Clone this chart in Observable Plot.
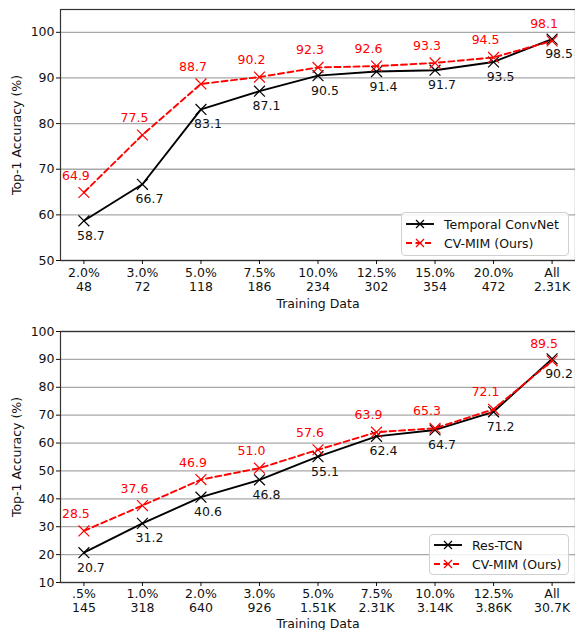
<!DOCTYPE html>
<html>
<head>
<meta charset="utf-8">
<script src="https://cdn.jsdelivr.net/npm/d3@7"></script>
<script src="https://cdn.jsdelivr.net/npm/@observablehq/plot@0.6"></script>
<style>
  body { margin: 0; background: #fff; font-family: "DejaVu Sans", sans-serif; }
  .panel { position: relative; width: 575px; }
  .legend { position: absolute; background: rgba(255,255,255,0.85); border: 1px solid #d0d0d0; border-radius: 4px;
            font: 12.5px "DejaVu Sans", sans-serif; color: #111; box-sizing: border-box; }
  .legend .row { position: absolute; display: flex; align-items: center; white-space: nowrap; }
  .legend svg { display: block; }
</style>
</head>
<body>
<div id="root"></div>
<script>
// ---- Data: top panel ----
const topLabels = ["2.0%\n48", "3.0%\n72", "5.0%\n118", "7.5%\n186", "10.0%\n234", "12.5%\n302", "15.0%\n354", "20.0%\n472", "All\n2.31K"];
const topBaselineName = "Temporal ConvNet";
const topBaseline = [58.7, 66.7, 83.1, 87.1, 90.5, 91.4, 91.7, 93.5, 98.5];
const topOurs = [64.9, 77.5, 88.7, 90.2, 92.3, 92.6, 93.3, 94.5, 98.1];
const topYTicks = [50, 60, 70, 80, 90, 100];

// ---- Data: bottom panel ----
const botLabels = [".5%\n145", "1.0%\n318", "2.0%\n640", "3.0%\n926", "5.0%\n1.51K", "7.5%\n2.31K", "10.0%\n3.14K", "12.5%\n3.86K", "All\n30.7K"];
const botBaselineName = "Res-TCN";
const botBaseline = [20.7, 31.2, 40.6, 46.8, 55.1, 62.4, 64.7, 71.2, 90.2];
const botOurs = [28.5, 37.6, 46.9, 51.0, 57.6, 63.9, 65.3, 72.1, 89.5];
const botYTicks = [10, 20, 30, 40, 50, 60, 70, 80, 90, 100];

const oursName = "CV-MIM (Ours)";
const RED = "#ff0000", BLACK = "#000000";
const FONT = "DejaVu Sans";

function panel({labels, baseline, ours, baseName, yDomain, yTicks, height, marginTop, marginBottom, xLabelOffset, tickPad, legendBox}) {
  const base = baseline.map((v, i) => ({i, v}));
  const our = ours.map((v, i) => ({i, v}));
  const n = labels.length;
  const plot = Plot.plot({
    width: 575,
    height,
    marginLeft: 60,
    marginRight: 0,
    marginTop,
    marginBottom,
    style: {fontFamily: FONT, fontSize: "12.5px", color: "#111", background: "white", overflow: "visible"},
    x: {domain: [-0.4, n - 1 + 0.4]},
    y: {domain: yDomain},
    marks: [
      Plot.gridY(yTicks, {stroke: "#a8a8a8", strokeOpacity: 1, strokeWidth: 1.3}),
      Plot.line(base, {x: "i", y: "v", stroke: BLACK, strokeWidth: 1.9}),
      Plot.dot(base, {x: "i", y: "v", symbol: "times", r: 5, stroke: BLACK, strokeWidth: 1.2}),
      Plot.line(our, {x: "i", y: "v", stroke: RED, strokeWidth: 1.9, strokeDasharray: "6,3.5"}),
      Plot.dot(our, {x: "i", y: "v", symbol: "times", r: 5, stroke: RED, strokeWidth: 1.2}),
      Plot.text(base, {x: "i", y: "v", text: d => d.v.toFixed(1), dx: 7, dy: 15, fill: "#111", fontSize: 12.5}),
      Plot.text(our, {x: "i", y: "v", text: d => d.v.toFixed(1), dx: -8, dy: -17, fill: RED, fontSize: 12.5}),
      Plot.frame({stroke: "#333", strokeWidth: 1.2}),
      Plot.axisX({ticks: d3.range(n), tickFormat: i => labels[i], tickSize: 4, tickPadding: tickPad, lineHeight: 1.1,
        label: "Training Data", labelAnchor: "center", labelArrow: "none", labelOffset: xLabelOffset, fill: "#111"}),
      Plot.axisY({ticks: yTicks, tickSize: 4, tickPadding: 2, label: "Top-1 Accuracy (%)",
        labelAnchor: "center", labelArrow: "none", labelOffset: 48, fill: "#111"})
    ]
  });
  const div = document.createElement("div");
  div.className = "panel";
  div.style.height = height + "px";
  div.appendChild(plot);
  // legend
  const lg = document.createElement("div");
  lg.className = "legend";
  Object.assign(lg.style, {left: legendBox.x + "px", top: legendBox.y + "px", width: legendBox.w + "px", height: legendBox.h + "px"});
  const entries = [{name: baseName, color: BLACK, dash: null}, {name: oursName, color: RED, dash: "6,3.5"}];
  entries.forEach((e, k) => {
    const row = document.createElement("div");
    row.className = "row";
    row.style.left = "3px";
    row.style.top = (legendBox.rowTop + k * 19 - 8) + "px";
    row.style.height = "16px";
    row.innerHTML = `<svg width="${legendBox.sw}" height="16"><line x1="1" x2="${legendBox.sw - 1}" y1="8" y2="8" stroke="${e.color}" stroke-width="1.9" ${e.dash ? `stroke-dasharray="${e.dash}"` : ""}/>
      <path d="M${legendBox.sw/2 - 4},4L${legendBox.sw/2 + 4},12M${legendBox.sw/2 - 4},12L${legendBox.sw/2 + 4},4" stroke="${e.color}" stroke-width="1.2"/></svg>
      <span style="margin-left:${legendBox.gap}px;color:#111">${e.name}</span>`;
    lg.appendChild(row);
  });
  div.appendChild(lg);
  return div;
}

const root = document.getElementById("root");
root.appendChild(panel({labels: topLabels, baseline: topBaseline, ours: topOurs, baseName: topBaselineName,
  yDomain: [50, 105], yTicks: topYTicks, height: 315, marginTop: 9, marginBottom: 55, xLabelOffset: 47, tickPad: 3,
  legendBox: {x: 401, y: 212, w: 168, h: 44, rowTop: 11, sw: 30, gap: 9}}));
root.appendChild(panel({labels: botLabels, baseline: botBaseline, ours: botOurs, baseName: botBaselineName,
  yDomain: [10, 100], yTicks: botYTicks, height: 315, marginTop: 16, marginBottom: 48, xLabelOffset: 45, tickPad: 2,
  legendBox: {x: 429, y: 219, w: 140, h: 41, rowTop: 10, sw: 30, gap: 9}}));
</script>
</body>
</html>
